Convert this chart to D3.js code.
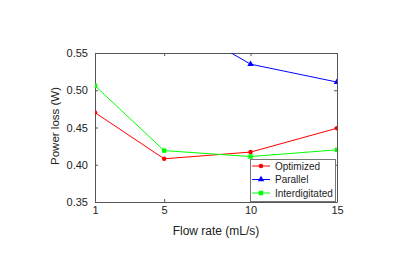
<!DOCTYPE html>
<html>
<head>
<meta charset="utf-8">
<script src="https://cdn.jsdelivr.net/npm/d3@7"></script>
<style>
  body { margin: 0; background: #fff; }
  svg { font-family: "Liberation Sans", Arial, sans-serif; }
</style>
</head>
<body>
<div id="chart"></div>
<script>
const flowRates = [1, 5, 10, 15];
const optimized = [0.470, 0.408, 0.417, 0.449];
const parallel = [0.66, 0.602, 0.535, 0.511];
const interdigitated = [0.506, 0.419, 0.411, 0.420];
const xTicks = [1, 5, 10, 15];
const yTicks = [0.35, 0.40, 0.45, 0.50, 0.55];

const series = [
  { name: "Optimized", values: optimized, color: "#ff0000", marker: "circle" },
  { name: "Parallel", values: parallel, color: "#0000ff", marker: "triangle" },
  { name: "Interdigitated", values: interdigitated, color: "#00ff00", marker: "square" }
];

const w = 408, h = 263;
const pL = 95, pR = 337, pT = 53, pB = 202;

const svg = d3.select("#chart").append("svg")
  .attr("width", w).attr("height", h);

const x = d3.scaleLinear().domain([1, 15]).range([pL, pR]);
const y = d3.scaleLinear().domain([0.35, 0.55]).range([pB, pT]);

svg.append("clipPath").attr("id", "clip")
  .append("rect")
  .attr("x", pL).attr("y", pT)
  .attr("width", pR - pL).attr("height", pB - pT);

// axes
const axisColor = "#555";
const fmt = d3.format(".2f");
const styleAxis = g => {
  g.select(".domain").attr("stroke", axisColor);
  g.selectAll(".tick line").attr("stroke", axisColor);
  g.selectAll(".tick text").attr("fill", "#222").attr("font-size", 11);
};
svg.append("g").attr("transform", `translate(0,${pB})`)
  .call(d3.axisBottom(x).tickValues(xTicks).tickSizeInner(-3).tickSizeOuter(0).tickPadding(4.5))
  .call(styleAxis);
svg.append("g").attr("transform", `translate(0,${pT})`)
  .call(d3.axisTop(x).tickValues(xTicks).tickSizeInner(-3).tickSizeOuter(0).tickFormat(""))
  .call(styleAxis);
svg.append("g").attr("transform", `translate(${pL},0)`)
  .call(d3.axisLeft(y).tickValues(yTicks).tickFormat(fmt).tickSizeInner(-3).tickSizeOuter(0).tickPadding(7))
  .call(styleAxis);
svg.append("g").attr("transform", `translate(${pR},0)`)
  .call(d3.axisRight(y).tickValues(yTicks).tickSizeInner(-3).tickSizeOuter(0).tickFormat(""))
  .call(styleAxis);

svg.append("text")
  .attr("x", (pL + pR) / 2).attr("y", 235)
  .attr("text-anchor", "middle").attr("font-size", 12).attr("fill", "#222")
  .text("Flow rate (mL/s)");
svg.append("text")
  .attr("transform", `translate(59,126) rotate(-90)`)
  .attr("text-anchor", "middle").attr("font-size", 11.5).attr("fill", "#222")
  .text("Power loss (W)");

const markerPath = {
  circle: d3.symbol().type(d3.symbolCircle).size(16),
  triangle: d3.symbol().type(d3.symbolTriangle).size(18),
  square: d3.symbol().type(d3.symbolSquare).size(20)
};

const line = d3.line().x((d, i) => x(flowRates[i])).y(d => y(d));
const plot = svg.append("g").attr("clip-path", "url(#clip)");

series.forEach(s => {
  plot.append("path")
    .attr("d", line(s.values))
    .attr("fill", "none").attr("stroke", s.color).attr("stroke-width", 1);
  plot.selectAll(null).data(s.values).enter().append("path")
    .attr("d", markerPath[s.marker]())
    .attr("transform", (d, i) => `translate(${x(flowRates[i])},${y(d)})`)
    .attr("fill", s.color);
});

// legend
const lg = svg.append("g");
lg.append("rect")
  .attr("x", 250.5).attr("y", 159.5).attr("width", 85).attr("height", 42)
  .attr("fill", "#fff").attr("stroke", "#777").attr("stroke-width", 1);
series.forEach((s, i) => {
  const yy = 166 + i * 13.5;
  lg.append("line").attr("x1", 252).attr("x2", 270).attr("y1", yy).attr("y2", yy)
    .attr("stroke", s.color).attr("stroke-width", 1);
  lg.append("path").attr("d", markerPath[s.marker]())
    .attr("transform", `translate(261,${yy})`).attr("fill", s.color);
  lg.append("text").attr("x", 275).attr("y", yy + 3.5)
    .attr("font-size", 10).attr("fill", "#222").text(s.name);
});
</script>
</body>
</html>
